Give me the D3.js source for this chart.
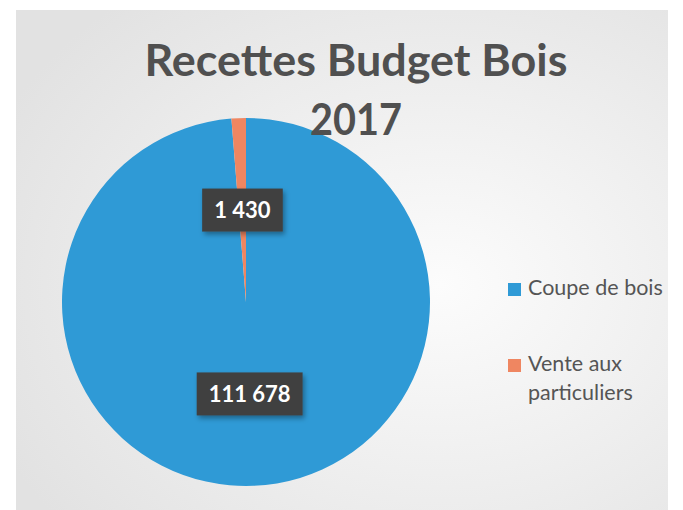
<!DOCTYPE html>
<html>
<head>
<meta charset="utf-8">
<script src="https://cdn.jsdelivr.net/npm/d3@7"></script>
<style>
  body { margin: 0; background: #fff; }
  svg { display: block; }
</style>
</head>
<body>
<div id="chart"></div>
<script>
var width = 683,
    height = 510;

// data
var categories = ["Coupe de bois", "Vente aux particuliers"];
var values = [111678, 1430];
var labels = ["111 678", "1 430"];
var colors = ["#2F9AD6", "#EF8661"];
var titleLines = ["Recettes Budget Bois", "2017"];

var svg = d3.select("#chart").append("svg")
    .attr("width", width)
    .attr("height", height);

var defs = svg.append("defs");
var grad = defs.append("radialGradient")
    .attr("id", "bg")
    .attr("cx", "65%").attr("cy", "55%").attr("r", "75%");
grad.append("stop").attr("offset", "0%").attr("stop-color", "#fcfcfc");
grad.append("stop").attr("offset", "100%").attr("stop-color", "#e2e2e2");

var shadow = defs.append("filter").attr("id", "shadow")
    .attr("x", "-20%").attr("y", "-20%").attr("width", "150%").attr("height", "160%");
shadow.append("feDropShadow")
    .attr("dx", 2).attr("dy", 3).attr("stdDeviation", 2.5)
    .attr("flood-color", "#000").attr("flood-opacity", 0.35);

// chart area
svg.append("rect")
    .attr("x", 16).attr("y", 10)
    .attr("width", 652).attr("height", 500)
    .attr("fill", "url(#bg)");

// pie
var cx = 246, cy = 302, r = 184;

var pie = d3.pie().sort(null).value(function(d) { return d; });
var arc = d3.arc().innerRadius(0).outerRadius(r);

var arcs = pie(values);

var g = svg.append("g").attr("transform", "translate(" + cx + "," + cy + ")");

g.selectAll("path")
    .data(arcs)
    .enter().append("path")
      .attr("d", arc)
      .attr("fill", function(d, i) { return colors[i]; });

// title (drawn over the pie)
var title = svg.append("g")
    .attr("font-family", "Lato, 'Open Sans', sans-serif")
    .attr("font-weight", "bold")
    .attr("font-size", 43)
    .attr("fill", "#505050")
    .attr("text-anchor", "middle");

title.append("text")
    .attr("x", 356).attr("y", 76)
    .attr("textLength", 423)
    .attr("lengthAdjust", "spacingAndGlyphs")
    .text(titleLines[0]);

title.append("text")
    .attr("x", 356).attr("y", 135)
    .attr("textLength", 92)
    .attr("lengthAdjust", "spacingAndGlyphs")
    .text(titleLines[1]);

// data labels
var lab = g.selectAll(".lab")
    .data(arcs)
    .enter().append("g")
      .attr("class", "lab")
      .attr("transform", function(d) { var c = arc.centroid(d); return "translate(" + c[0] + "," + c[1] + ")"; });

lab.append("text")
    .attr("text-anchor", "middle")
    .attr("dy", "0.35em")
    .attr("font-family", "Lato, 'Open Sans', sans-serif")
    .attr("font-weight", "bold")
    .attr("font-size", 22)
    .attr("fill", "#fff")
    .text(function(d, i) { return labels[i]; });

lab.each(function() {
  var grp = d3.select(this);
  var bb = grp.select("text").node().getBBox();
  grp.insert("rect", "text")
      .attr("x", bb.x - 12)
      .attr("y", -21.5)
      .attr("width", bb.width + 24)
      .attr("height", 43)
      .attr("fill", "#404040")
      .attr("filter", "url(#shadow)");
});

// legend
var legend = svg.append("g")
    .attr("font-family", "Lato, 'Open Sans', sans-serif")
    .attr("font-size", 21.5)
    .attr("fill", "#555");

var legendY = [295, 371];
var item = legend.selectAll("g")
    .data(categories)
    .enter().append("g")
      .attr("transform", function(d, i) { return "translate(508," + legendY[i] + ")"; });

item.append("rect")
    .attr("x", 0).attr("y", -12)
    .attr("width", 13).attr("height", 13)
    .attr("fill", function(d, i) { return colors[i]; });

item.append("text")
    .each(function(d) {
      var el = d3.select(this);
      var parts = d == "Vente aux particuliers" ? ["Vente aux", "particuliers"] : [d];
      parts.forEach(function(p, j) {
        el.append("tspan").attr("x", 20).attr("dy", j == 0 ? 0 : 29).text(p);
      });
    });
</script>
</body>
</html>
